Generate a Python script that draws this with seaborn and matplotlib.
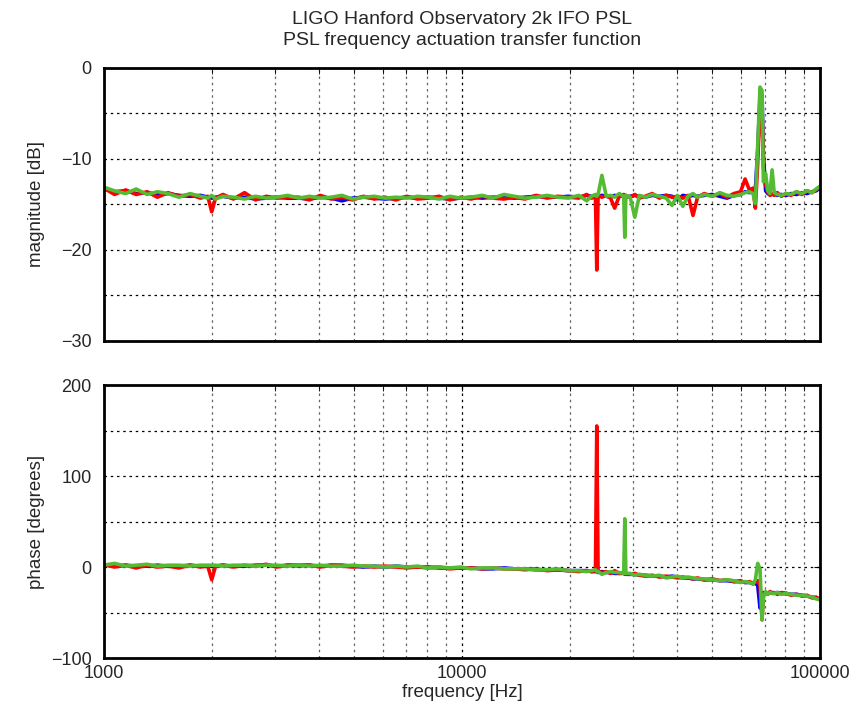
import numpy as np
import pandas as pd
import seaborn as sns
import matplotlib
matplotlib.use("Agg")
import matplotlib.pyplot as plt
from matplotlib.ticker import LogLocator, MultipleLocator, FixedLocator, FixedFormatter, NullFormatter

# swept-sine frequency points [Hz]
freq = [1000, 1070, 1150, 1230, 1320, 1410, 1510, 1620, 1740, 1860,
        1950, 2000, 2050, 2150, 2300, 2470, 2650, 2840, 3040, 3260,
        3500, 3750, 4020, 4310, 4620, 4950, 5310, 5690, 6100, 6540,
        7010, 7510, 8050, 8630, 9250, 9920, 10600, 11400, 12200, 13100,
        14000, 15000, 16100, 17300, 18500, 19800, 21200, 22300, 23000, 23600,
        23800, 24000, 24600, 25300, 26000, 26700, 27500, 28300, 28500, 28700,
        29500, 30400, 31300, 32500, 34000, 35600, 37200, 38600, 40000, 41400,
        42800, 44200, 45500, 47500, 50000, 52500, 55000, 57500, 60000, 61800,
        63500, 65000, 66000, 67000, 68000, 68900, 69500, 70500, 71500, 72500,
        73500, 74500, 76000, 78000, 80500, 83000, 86000, 89000, 92000, 95000,
        97500, 100000]

# magnitude [dB]
mag_blue = [-13.3, -13.6, -13.5, -13.8, -13.7, -13.9, -13.8, -14.0, -14.1, -14.0,
            -14.2, -14.3, -14.2, -14.1, -14.3, -14.2, -14.4, -14.3, -14.2, -14.3,
            -14.3, -14.4, -14.2, -14.3, -14.6, -14.3, -14.2, -14.3, -14.4, -14.3,
            -14.2, -14.3, -14.2, -14.3, -14.4, -14.3, -14.2, -14.3, -14.2, -14.2,
            -14.3, -14.2, -14.1, -14.2, -14.2, -14.1, -14.2, -14.0, -14.1, -14.1,
            -14.0, -14.1, -14.0, -14.1, -14.2, -14.0, -14.1, -14.0, -14.1, -14.2,
            -14.1, -14.0, -14.1, -14.2, -14.0, -14.1, -14.0, -14.1, -14.5, -14.0,
            -14.1, -14.0, -14.1, -14.0, -13.9, -14.1, -14.3, -14.0, -13.9, -13.6,
            -13.7, -13.5, -13.4, -9.0, -3.2, -3.0, -9.5, -13.5, -13.8, -13.9,
            -13.9, -13.8, -14.0, -13.9, -14.0, -13.8, -13.9, -13.7, -13.8, -13.6,
            -13.5, -13.2]
mag_red = [-13.2, -13.9, -13.4, -13.9, -13.6, -14.2, -13.7, -14.1, -13.9, -14.3,
           -14.1, -15.8, -14.3, -13.9, -14.4, -13.7, -14.5, -14.1, -14.3, -14.2,
           -14.2, -14.5, -14.0, -14.4, -14.2, -14.5, -14.1, -14.4, -14.2, -14.5,
           -14.1, -14.4, -14.3, -14.1, -14.5, -14.2, -14.4, -14.1, -14.3, -14.4,
           -14.2, -14.4, -14.0, -14.3, -14.1, -14.2, -14.3, -13.9, -14.3, -14.2,
           -22.2, -14.0, -14.2, -14.0, -14.3, -15.4, -14.1, -13.9, -14.3, -14.0,
           -14.2, -13.9, -14.3, -14.1, -13.8, -14.3, -14.0, -14.2, -14.1, -14.3,
           -14.0, -16.2, -14.2, -13.8, -14.1, -13.8, -14.2, -13.8, -13.6, -12.2,
           -13.4, -13.2, -15.4, -10.5, -4.0, -4.5, -11.0, -12.8, -13.6, -14.0,
           -13.8, -14.0, -13.7, -14.1, -13.8, -14.0, -13.6, -13.9, -13.5, -13.7,
           -13.4, -13.1]
mag_green = [-13.1, -13.5, -13.8, -13.3, -13.9, -13.6, -13.8, -14.2, -13.8, -14.1,
             -14.3, -14.0, -14.4, -14.1, -14.2, -14.4, -14.1, -14.3, -14.2, -14.0,
             -14.3, -14.1, -14.3, -14.2, -14.0, -14.4, -14.2, -14.1, -14.3, -14.2,
             -14.3, -14.1, -14.2, -14.4, -14.1, -14.3, -14.2, -14.0, -14.3, -13.9,
             -14.1, -14.3, -14.2, -14.0, -14.2, -14.3, -14.0, -14.6, -14.1, -13.9,
             -14.1, -13.9, -11.8, -14.1, -14.0, -14.2, -13.8, -14.1, -18.6, -14.0,
             -14.2, -16.4, -14.0, -14.2, -13.9, -14.1, -14.3, -15.1, -14.0, -15.2,
             -14.1, -13.8, -14.2, -13.9, -14.1, -13.7, -14.0, -14.1, -13.9, -13.7,
             -13.6, -13.8, -14.9, -8.5, -2.1, -2.5, -12.5, -11.6, -13.5, -13.8,
             -11.2, -13.7, -13.9, -14.0, -13.8, -13.9, -13.6, -13.8, -13.5, -13.7,
             -13.3, -13.0]

# phase [degrees]
ph_blue = [2, 1, 2, 1, 1, 2, 1, 1, 2, 1,
           1, 1, 1, 2, 1, 1, 2, 2, 1, 2,
           2, 2, 1, 2, 2, 1, 0, 1, 0, 1,
           0, 0, 0, -1, -1, -1, -1, -2, -2, -1,
           -2, -2, -3, -3, -3, -4, -4, -4, -5, -5,
           -5, -6, -5, -6, -6, -7, -7, -7, -7, -8,
           -8, -8, -9, -9, -10, -10, -11, -10, -11, -12,
           -12, -13, -13, -14, -14, -15, -15, -16, -16, -17,
           -17, -18, -18, -20, -45, -30, -28, -29, -29, -28,
           -28, -29, -28, -29, -29, -30, -30, -31, -32, -33,
           -34, -35]
ph_red = [3, 0, 2, -1, 2, 0, 1, -1, 2, 0,
          1, -14, 1, 2, 0, 2, 1, 3, 0, 2,
          1, 2, 0, 2, 1, 0, 1, 0, 1, 0,
          -1, 0, -1, 0, -2, -1, -1, -2, -1, -2,
          -2, -3, -2, -4, -3, -4, -5, -4, -5, -4,
          155, -5, -6, -5, -7, -4, -7, -6, -8, -7,
          -8, -7, -9, -10, -9, -11, -10, -11, -12, -11,
          -12, -13, -12, -14, -13, -15, -14, -16, -15, -17,
          -16, -18, -17, -15, -20, -58, -30, -28, -30, -27,
          -29, -28, -30, -28, -29, -31, -30, -32, -31, -34,
          -33, -36]
ph_green = [2, 4, 1, 2, 3, 1, 2, 2, 1, 2,
            2, 2, 2, 1, 2, 2, 1, 2, 2, 1,
            2, 1, 2, 1, 1, 2, 1, 1, 0, 1,
            0, 1, -1, 0, -1, 0, -2, -1, -1, -2,
            -2, -2, -3, -3, -2, -4, -4, -5, -4, -3,
            -5, -5, -8, -6, -5, -6, -6, -7, 53, -7,
            -7, -9, -8, -9, -10, -9, -12, -11, -10, -12,
            -11, -12, -13, -13, -14, -15, -14, -15, -17, -16,
            -17, -19, -14, 4, -2, -58, -34, -27, -30, -28,
            -29, -29, -28, -30, -29, -30, -31, -31, -32, -33,
            -35, -36]

series = ["blue", "red", "green"]
colors = {"blue": "#0000ff", "red": "#ff0000", "green": "#55bb33"}

frames = []
for name, m, p in zip(series, [mag_blue, mag_red, mag_green], [ph_blue, ph_red, ph_green]):
    frames.append(pd.DataFrame({"freq": freq, "mag": m, "phase": p, "series": name}))
df = pd.concat(frames, ignore_index=True)

sns.set_style("white")
plt.rcParams["font.family"] = ["Liberation Sans", "DejaVu Sans"]
plt.rcParams["font.size"] = 13

fig = plt.figure(figsize=(8.52, 7.11), dpi=100)
ax1 = fig.add_axes([0.122, 0.5204, 0.8404, 0.384])
ax2 = fig.add_axes([0.122, 0.0745, 0.8404, 0.384])

for ax, col in [(ax1, "mag"), (ax2, "phase")]:
    sns.lineplot(data=df, x="freq", y=col, hue="series", palette=colors,
                 hue_order=series, linewidth=2.6, legend=False, ax=ax)
    ax.set_xscale("log")
    ax.set_xlim(1000, 100000)
    ax.xaxis.set_major_locator(FixedLocator([1000, 10000, 100000]))
    ax.xaxis.set_minor_locator(LogLocator(base=10, subs=range(2, 10)))
    ax.xaxis.set_minor_formatter(NullFormatter())
    ax.grid(which="major", color="black", linestyle=(0, (2, 3)), linewidth=0.9)
    ax.grid(which="minor", axis="x", color="0.4", linestyle=(0, (2, 3)), linewidth=0.9)
    ax.grid(which="minor", axis="y", color="black", linestyle=(0, (2, 3)), linewidth=0.9)
    ax.tick_params(which="both", direction="in", length=4, top=True, right=True,
                   color="black", labelsize=13)
    ax.tick_params(axis="y", which="both", pad=9)
    ax.tick_params(axis="x", which="both", pad=5)
    for s in ax.spines.values():
        s.set_linewidth(2)
        s.set_color("black")

ax1.set_ylim(-30, 0)
ax1.yaxis.set_major_locator(FixedLocator([-30, -20, -10, 0]))
ax1.yaxis.set_major_formatter(FixedFormatter(["\u221230", "\u221220", "\u221210", "0"]))
ax1.yaxis.set_minor_locator(MultipleLocator(5))
ax1.xaxis.set_major_formatter(NullFormatter())
ax1.set_xlabel("")
ax1.set_ylabel("magnitude [dB]", fontsize=13.5)
ax1.yaxis.set_label_coords(-0.082, 0.5)

ax2.set_ylim(-100, 200)
ax2.yaxis.set_major_locator(FixedLocator([-100, 0, 100, 200]))
ax2.yaxis.set_major_formatter(FixedFormatter(["\u2212100", "0", "100", "200"]))
ax2.yaxis.set_minor_locator(MultipleLocator(50))
ax2.xaxis.set_major_formatter(FixedFormatter(["1000", "10000", "100000"]))
ax2.set_xlabel("frequency [Hz]", fontsize=13.5)
ax2.xaxis.set_label_coords(0.5, -0.095)
ax2.set_ylabel("phase [degrees]", fontsize=13.5)
ax2.yaxis.set_label_coords(-0.082, 0.5)

fig.text(0.542, 0.984, "LIGO Hanford Observatory 2k IFO PSL\nPSL frequency actuation transfer function",
         ha="center", va="top", fontsize=14, linespacing=1.3)

fig.savefig("out.png", dpi=100)
